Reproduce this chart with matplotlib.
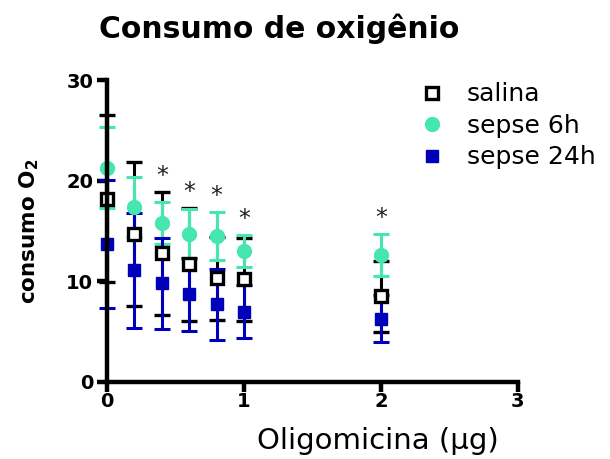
import matplotlib
matplotlib.use("Agg")
import matplotlib.pyplot as plt
from matplotlib.lines import Line2D
import numpy as np

plt.rcParams['font.family'] = ['DejaVu Sans']

# Oligomycin dose (µg)
dose = [0, 0.2, 0.4, 0.6, 0.8, 1.0, 2.0]

# Oxygen consumption, mean and error for each group
salina_mean = [18.2, 14.7, 12.8, 11.7, 10.3, 10.2, 8.5]
salina_err = [8.3, 7.2, 6.1, 5.6, 4.1, 4.1, 3.5]

sepse6_mean = [21.3, 17.4, 15.8, 14.7, 14.5, 13.0, 12.6]
sepse6_err = [4.0, 3.0, 2.1, 2.5, 2.4, 1.6, 2.1]

sepse24_mean = [13.7, 11.1, 9.8, 8.7, 7.7, 7.0, 6.3]
sepse24_err = [6.4, 5.7, 4.5, 3.6, 3.5, 2.6, 2.3]

# doses flagged as significant
signif_dose = [0.4, 0.6, 0.8, 1.0, 2.0]

xticks = [0, 1, 2, 3]
yticks = [0, 10, 20, 30]

c_sal = 'black'
c_6h = '#45E6B0'
c_24h = '#0000BB'

fig = plt.figure(figsize=(6.10, 4.59), dpi=100)
ax = fig.add_axes([0.1754, 0.1678, 0.849 - 0.1754, 0.8257 - 0.1678])

eb = dict(elinewidth=2.2, capsize=6, capthick=2.2, linestyle='none', clip_on=False, zorder=2)

ax.errorbar(dose, salina_mean, yerr=salina_err, color=c_sal, marker='s', ms=9,
            mfc='white', mec=c_sal, mew=2.4, **eb)
ax.errorbar(dose, sepse6_mean, yerr=sepse6_err, color=c_6h, marker='o', ms=10,
            mfc=c_6h, mec=c_6h, **eb)
ax.errorbar(dose, sepse24_mean, yerr=sepse24_err, color=c_24h, marker='s', ms=9,
            mfc=c_24h, mec=c_24h, **eb)

# significance marks above the highest error bar at each flagged dose
for d in signif_dose:
    i = dose.index(d)
    top = max(salina_mean[i] + salina_err[i], sepse6_mean[i] + sepse6_err[i],
              sepse24_mean[i] + sepse24_err[i])
    ax.text(d, top + 1.6, '*', ha='center', va='center', fontsize=17, color='#222222')

ax.set_xlim(0, 3)
ax.set_ylim(0, 30)
ax.set_xticks(xticks)
ax.set_yticks(yticks)
for s in ['top', 'right']:
    ax.spines[s].set_visible(False)
for s in ['left', 'bottom']:
    ax.spines[s].set_linewidth(3.2)
    ax.spines[s].set_zorder(3)
ax.tick_params(width=3.2, length=7, labelsize=14, pad=3)
ax.tick_params(axis='x', pad=0)
for lab in ax.get_xticklabels() + ax.get_yticklabels():
    lab.set_fontweight('bold')

ax.set_ylabel('consumo O$_\\mathbf{2}$', fontsize=15.5, fontweight='bold', labelpad=18)
fig.text(0.62, 0.04, 'Oligomicina (\u03bcg)', fontsize=21, ha='center', va='center')
fig.text(0.457, 0.937, 'Consumo de oxigênio', fontsize=21.5, fontweight='bold',
         ha='center', va='center')

handles = [
    Line2D([], [], linestyle='none', marker='s', ms=9, mfc='white', mec=c_sal, mew=2.4),
    Line2D([], [], linestyle='none', marker='o', ms=10, mfc=c_6h, mec=c_6h),
    Line2D([], [], linestyle='none', marker='s', ms=9, mfc=c_24h, mec=c_24h),
]
fig.legend(handles, ['salina', 'sepse 6h', 'sepse 24h'], loc='upper left',
           bbox_to_anchor=(0.667, 0.848), frameon=False, fontsize=18,
           handlelength=1.0, handletextpad=0.9, labelspacing=0.3, borderpad=0)

fig.savefig('out.png', dpi=100)
